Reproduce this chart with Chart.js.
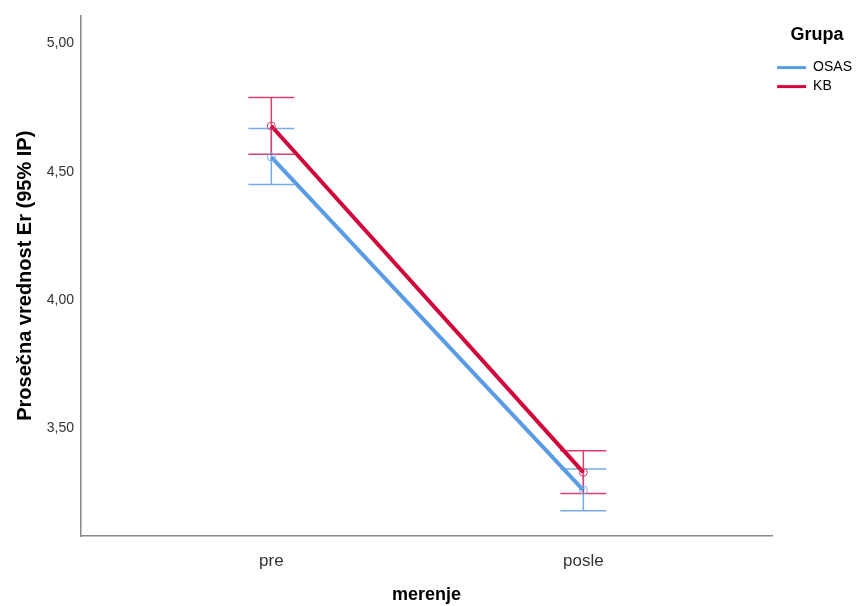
<!DOCTYPE html>
<html>
<head>
<meta charset="utf-8">
<title>Prosečna vrednost Er</title>
<script src="https://cdn.jsdelivr.net/npm/chart.js@4/dist/chart.umd.min.js"></script>
<style>
  html, body { margin: 0; padding: 0; background: #fff; }
  #wrap { width: 856px; height: 606px; }
</style>
</head>
<body>
<div id="wrap"><canvas id="chart"></canvas></div>
<script>
const categories = ["pre", "posle"];
const yTicks = [3.5, 4.0, 4.5, 5.0];

const osasMean = [4.558, 3.260];
const osasLow = [4.451, 3.179];
const osasHigh = [4.669, 3.342];

const kbMean = [4.679, 3.329];
const kbLow = [4.569, 3.247];
const kbHigh = [4.790, 3.413];

const blue = "#5a9be6";
const blueLight = "#76acee";
const red = "#d2063a";
const redLight = "#d8416a";

const toPoints = (vals) => vals.map((v, i) => ({ x: i, y: v }));

// vertical 95% CI whiskers with caps, drawn under the mean lines
const errorBars = {
  id: "errorBars",
  beforeDatasetsDraw(chart) {
    const { ctx, scales: { x, y } } = chart;
    const cap = 23;
    chart.data.datasets.forEach((ds) => {
      if (!ds.low) return;
      ctx.save();
      ctx.strokeStyle = ds.pointBorderColor;
      ctx.lineWidth = 1.5;
      ds.data.forEach((p, i) => {
        const px = x.getPixelForValue(p.x);
        const lo = y.getPixelForValue(ds.low[i]);
        const hi = y.getPixelForValue(ds.high[i]);
        ctx.beginPath();
        ctx.moveTo(px, lo);
        ctx.lineTo(px, hi);
        ctx.moveTo(px - cap, lo);
        ctx.lineTo(px + cap, lo);
        ctx.moveTo(px - cap, hi);
        ctx.lineTo(px + cap, hi);
        ctx.stroke();
      });
      ctx.restore();
    });
  },
};

new Chart(document.getElementById("chart"), {
  type: "line",
  data: {
    datasets: [
      {
        label: "OSAS",
        data: toPoints(osasMean),
        low: osasLow,
        high: osasHigh,
        borderColor: blue,
        backgroundColor: blue,
        borderWidth: 4,
        pointRadius: 4,
        pointBorderWidth: 1,
        pointBorderColor: blueLight,
        pointBackgroundColor: "rgba(0,0,0,0)",
      },
      {
        label: "KB",
        data: toPoints(kbMean),
        low: kbLow,
        high: kbHigh,
        borderColor: red,
        backgroundColor: red,
        borderWidth: 4,
        pointRadius: 4,
        pointBorderWidth: 1,
        pointBorderColor: redLight,
        pointBackgroundColor: "rgba(0,0,0,0)",
      },
    ],
  },
  options: {
    responsive: true,
    maintainAspectRatio: false,
    animation: false,
    layout: { padding: { top: 14, right: -6 } },
    plugins: {
      tooltip: { enabled: false },
      legend: {
        position: "right",
        align: "start",
        title: {
          display: true,
          text: "Grupa",
          color: "#000",
          font: { family: "Liberation Sans", size: 18, weight: "bold" },
          padding: { top: 12, bottom: 8 },
        },
        labels: {
          boxWidth: 29,
          boxHeight: 3,
          padding: 5,
          color: "#333",
          font: { family: "Liberation Sans", size: 14 },
          generateLabels(chart) {
            return chart.data.datasets.map((ds, i) => ({
              text: ds.label,
              fillStyle: ds.borderColor,
              strokeStyle: ds.borderColor,
              lineWidth: 0,
              datasetIndex: i,
            }));
          },
        },
      },
    },
    scales: {
      x: {
        type: "linear",
        min: -0.61,
        max: 1.605,
        afterBuildTicks(scale) {
          scale.ticks = categories.map((c, i) => ({ value: i }));
        },
        afterFit(scale) {
          scale.height = 70;
        },
        grid: { display: false, drawTicks: false },
        border: { display: true, color: "#888", width: 1.5 },
        ticks: {
          color: "#333",
          padding: 15,
          font: { family: "Liberation Sans", size: 17 },
          callback: (v) => categories[v],
        },
        title: {
          display: true,
          text: "merenje",
          color: "#000",
          font: { family: "Liberation Sans", size: 18, weight: "bold" },
          padding: { top: 0, bottom: 0 },
        },
      },
      y: {
        min: 3.081,
        max: 5.11,
        afterBuildTicks(scale) {
          scale.ticks = yTicks.map((v) => ({ value: v }));
        },
        afterFit(scale) {
          scale.width = 81;
        },
        grid: { display: false, drawTicks: false },
        border: { display: true, color: "#888", width: 1.5 },
        ticks: {
          color: "#333",
          padding: 7,
          font: { family: "Liberation Sans", size: 14 },
          callback: (v) => v.toFixed(2).replace(".", ","),
        },
        title: {
          display: true,
          text: "Prosečna vrednost Er (95% IP)",
          color: "#000",
          font: { family: "Liberation Sans", size: 20, weight: "bold" },
          padding: { top: 13, bottom: 4 },
        },
      },
    },
  },
  plugins: [errorBars],
});
</script>
</body>
</html>
